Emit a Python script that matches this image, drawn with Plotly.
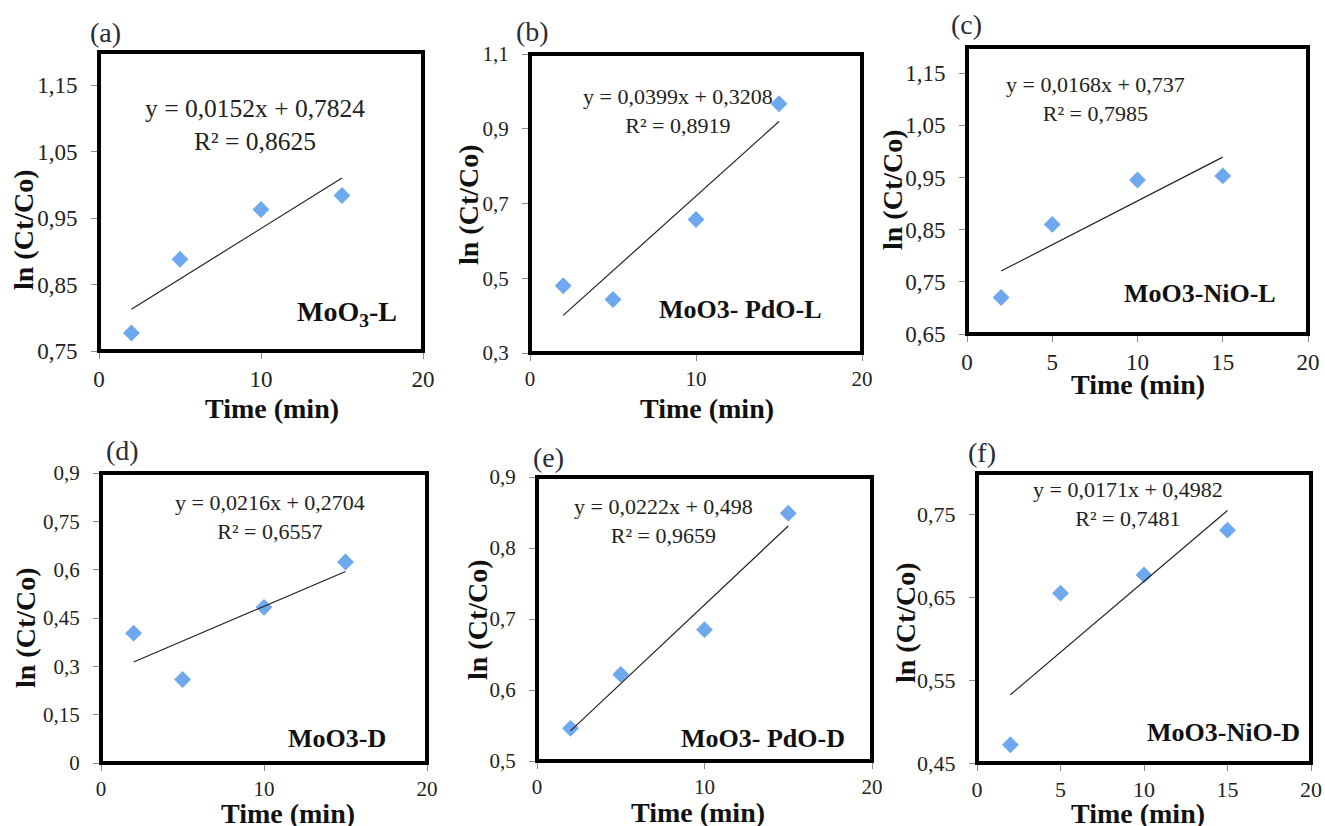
import plotly.graph_objects as go

W, H = 1325, 826

# ---------------- data ----------------
time_min = [2, 5, 10, 15]

panel_labels = ["(a)", "(b)", "(c)", "(d)", "(e)", "(f)"]
sample_names = ["MoO<sub>3</sub>-L", "MoO3- PdO-L", "MoO3-NiO-L",
                "MoO3-D", "MoO3- PdO-D", "MoO3-NiO-D"]

ln_a = [0.777, 0.888, 0.963, 0.984]
ln_b = [0.480, 0.443, 0.657, 0.967]
ln_c = [0.720, 0.860, 0.945, 0.953]
ln_d = [0.403, 0.259, 0.483, 0.624]
ln_e = [0.546, 0.622, 0.685, 0.849]
ln_f = [0.472, 0.655, 0.677, 0.731]
series = [ln_a, ln_b, ln_c, ln_d, ln_e, ln_f]

slopes = [0.0152, 0.0399, 0.0168, 0.0216, 0.0222, 0.0171]
intercepts = [0.7824, 0.3208, 0.737, 0.2704, 0.498, 0.4982]
equations = ["y = 0,0152x + 0,7824", "y = 0,0399x + 0,3208", "y = 0,0168x + 0,737",
             "y = 0,0216x + 0,2704", "y = 0,0222x + 0,498", "y = 0,0171x + 0,4982"]
r2_texts = ["R² = 0,8625", "R² = 0,8919", "R² = 0,7985",
            "R² = 0,6557", "R² = 0,9659", "R² = 0,7481"]

y_ranges = [[0.75, 1.2], [0.3, 1.1], [0.65, 1.2], [0, 0.9], [0.5, 0.9], [0.45, 0.8]]
y_tick0 = [0.75, 0.3, 0.65, 0, 0.5, 0.45]
y_dtick = [0.1, 0.2, 0.1, 0.15, 0.1, 0.1]
x_dtick = [10, 10, 5, 10, 10, 5]

x_title = "Time (min)"
y_title = "ln (Ct/Co)"

# ---------------- layout geometry (pixels) & styles ----------------
# plot-area boxes: left, top, right, bottom
boxes = [(99, 52, 423, 351), (530, 54, 862, 353), (967, 47, 1308, 334),
         (101, 473, 427, 763), (537, 477, 872, 761), (977, 473, 1311, 763)]
label_pos = [(105, 33), (532, 32), (966, 25), (122, 450), (548, 457), (982, 452)]
eq_pos = [(255, 125), (678, 111), (1095, 99), (270, 517), (663, 521), (1128, 504)]
name_pos = [(347, 313), (740, 310), (1200, 293), (337, 738), (763, 738), (1223, 732)]
ytitle_pos = [(23, 230), (468, 205), (893, 190), (25, 628), (477, 620), (905, 623)]
xtitle_pos = [(272, 408), (707, 408), (1138, 384), (288, 813), (698, 812), (1138, 813)]

tick_size = [23, 21, 23, 21, 21, 22]
eq_size = [25.5, 22, 22, 22, 22, 22]
name_size = [28, 26, 26, 26, 26, 26]


def px(x):
    return x / W


def py(y):
    return 1 - y / H


SERIF = "Liberation Serif, Times New Roman, serif"
fig = go.Figure()


def note(text, pos, size, color, bold=False, angle=0):
    fig.add_annotation(text=("<b>" + text + "</b>") if bold else text,
                       x=px(pos[0]), y=py(pos[1]), xref="paper", yref="paper",
                       xanchor="center", yanchor="middle", showarrow=False,
                       align="center", textangle=angle,
                       font=dict(family=SERIF, size=size, color=color))


for i in range(6):
    k = "" if i == 0 else str(i + 1)
    xa, ya = "x" + k, "y" + k
    l, t, r, b = boxes[i]

    fig.add_trace(go.Scatter(
        x=time_min, y=series[i], mode="markers", xaxis=xa, yaxis=ya,
        marker=dict(symbol="diamond", size=13, color="#6EA8EE"),
        showlegend=False, cliponaxis=False))
    x_fit = [time_min[0], time_min[-1]]
    y_fit = [slopes[i] * xx + intercepts[i] for xx in x_fit]
    fig.add_trace(go.Scatter(
        x=x_fit, y=y_fit, mode="lines", xaxis=xa, yaxis=ya,
        line=dict(color="#222222", width=1.2), showlegend=False))

    axis_common = dict(showgrid=False, zeroline=False, showline=True,
                       linecolor="#8c8c8c", linewidth=1, ticks="outside",
                       ticklen=7, tickcolor="#8c8c8c", automargin=False,
                       tickfont=dict(family=SERIF, size=tick_size[i], color="#222222"))
    fig.layout["xaxis" + k] = dict(
        axis_common, domain=[px(l), px(r)], anchor=ya, range=[0, 20],
        tick0=0, dtick=x_dtick[i], ticklabelstandoff=0)
    fig.layout["yaxis" + k] = dict(
        axis_common, domain=[py(b), py(t)], anchor=xa, range=y_ranges[i],
        tick0=y_tick0[i], dtick=y_dtick[i], tickformat=".2~f",
        ticklabelstandoff=9)

    # thick plot-area border
    fig.add_shape(type="rect", xref="paper", yref="paper",
                  x0=px(l), x1=px(r), y0=py(b), y1=py(t),
                  line=dict(color="#000000", width=4), layer="above")

    note(panel_labels[i], label_pos[i], 28, "#2a2a38")
    note(equations[i] + "<br>" + r2_texts[i], eq_pos[i], eq_size[i], "#222222")
    note(sample_names[i], name_pos[i], name_size[i], "#111111", bold=True)
    note(y_title, ytitle_pos[i], 28, "#111111", bold=True, angle=-90)
    note(x_title, xtitle_pos[i], 28, "#111111", bold=True)

fig.update_layout(width=W, height=H,
                  margin=dict(l=0, r=0, t=0, b=0, autoexpand=False),
                  paper_bgcolor="white", plot_bgcolor="white",
                  separators=", ")

fig.write_html("out.html")
